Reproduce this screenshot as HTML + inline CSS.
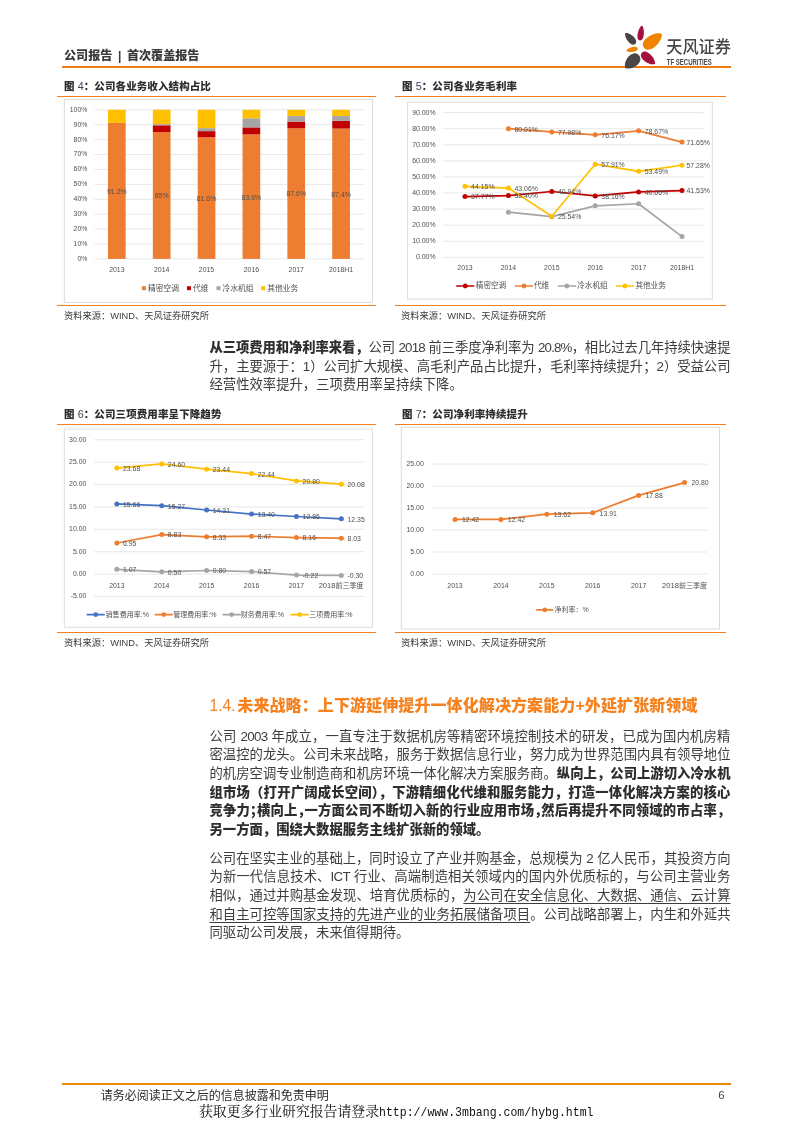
<!DOCTYPE html>
<html lang="zh-CN">
<head>
<meta charset="utf-8">
<title>公司报告 | 首次覆盖报告</title>
<style>
html,body{margin:0;padding:0;background:#fff;}
body{width:793px;height:1122px;position:relative;overflow:hidden;font-family:"Liberation Sans","Noto Sans CJK SC",sans-serif;color:#3a3a3a;}
.abs{position:absolute;white-space:nowrap;}
.ln{position:absolute;white-space:nowrap;color:#3d3d3d;overflow:visible;}
.ln b{font-weight:900;color:#2e2e2e;}
.ln i{font-style:normal;font-feature-settings:'halt' 1;}
.ln u{text-decoration:underline;text-underline-offset:2.5px;text-decoration-thickness:0.9px;}
.hl{position:absolute;background:#F08020;}
.ft{font-weight:900;font-size:10.5px;letter-spacing:0.1px;color:#2f2f2f;line-height:14px;height:14px;}
.ft .n{font-weight:400;color:#3a4556;font-size:10.8px;}
.src{font-size:9.25px;color:#3a3a3a;line-height:12px;height:12px;}
svg text{font-family:"Liberation Sans","Noto Sans CJK SC",sans-serif;}
</style>
</head>
<body>
<div class="abs" style="left:64px;top:46.5px;font-size:12.1px;line-height:18px;font-weight:900;color:#3a3a3a;word-spacing:2.2px;">公司报告 | 首次覆盖报告</div>
<div class="hl" style="left:62px;top:66px;width:669px;height:2px;background:#F07A14;"></div>

<div class="abs ft" style="left:64px;top:79px;">图 <span class="n">4</span>：公司各业务收入结构占比</div>
<div class="abs ft" style="left:402px;top:79px;">图 <span class="n">5</span>：公司各业务毛利率</div>
<div class="hl" style="left:57px;top:96px;width:319px;height:1px;"></div>
<div class="hl" style="left:395px;top:96px;width:331px;height:1px;"></div>
<div class="hl" style="left:57px;top:305px;width:319px;height:1px;"></div>
<div class="hl" style="left:395px;top:305px;width:331px;height:1px;"></div>
<div class="abs src" style="left:64px;top:310px;">资料来源：WIND、天风证券研究所</div>
<div class="abs src" style="left:401px;top:310px;">资料来源：WIND、天风证券研究所</div>

<div class="abs ft" style="left:64px;top:407px;">图 <span class="n">6</span>：公司三项费用率呈下降趋势</div>
<div class="abs ft" style="left:402px;top:407px;">图 <span class="n">7</span>：公司净利率持续提升</div>
<div class="hl" style="left:57px;top:424px;width:319px;height:1px;"></div>
<div class="hl" style="left:395px;top:424px;width:331px;height:1px;"></div>
<div class="hl" style="left:57px;top:632px;width:319px;height:1px;"></div>
<div class="hl" style="left:395px;top:632px;width:331px;height:1px;"></div>
<div class="abs src" style="left:64px;top:637px;">资料来源：WIND、天风证券研究所</div>
<div class="abs src" style="left:401px;top:637px;">资料来源：WIND、天风证券研究所</div>

<svg class="abs" style="left:0;top:0;" width="793" height="1122" viewBox="0 0 793 1122">
<g><path d="M 7.6,0 C 4.71,-3.70 -7.6,-4.55 -7.6,0 C -7.6,4.55 4.71,3.70 7.6,0 Z" fill="#A3123A" transform="translate(640.9,33.0) rotate(-82)"/><path d="M 7.4,0 C 4.59,-4.26 -7.4,-5.24 -7.4,0 C -7.4,5.24 4.59,4.26 7.4,0 Z" fill="#4A4545" transform="translate(630.3,38.5) rotate(-134)"/><path d="M 5.9,0 C 3.66,-2.91 -5.9,-3.59 -5.9,0 C -5.9,3.59 3.66,2.91 5.9,0 Z" fill="#F08300" transform="translate(632.0,49.6) rotate(169)"/><path d="M 11.3,0 C 7.01,-7.17 -11.3,-8.83 -11.3,0 C -11.3,8.83 7.01,7.17 11.3,0 Z" fill="#F08300" transform="translate(652.9,40.8) rotate(-38)"/><path d="M 8.7,0 C 5.39,-5.15 -8.7,-6.35 -8.7,0 C -8.7,6.35 5.39,5.15 8.7,0 Z" fill="#A3123A" transform="translate(648.4,58.5) rotate(40)"/><path d="M 9.3,0 C 5.77,-7.17 -9.3,-8.83 -9.3,0 C -9.3,8.83 5.77,7.17 9.3,0 Z" fill="#4A4545" transform="translate(632.0,61.6) rotate(137)"/></g>
<text x="666.3" y="53.4" font-size="17" font-weight="500" fill="#4a4646" textLength="64.6" lengthAdjust="spacingAndGlyphs">天风证券</text>
<text x="666.8" y="64.7" font-size="8.2" font-weight="bold" fill="#4a4646" textLength="45" lengthAdjust="spacingAndGlyphs">TF SECURITIES</text>
<rect x="64.30" y="99.50" width="308.20" height="202.80" fill="#fff" stroke="#D9D9D9" stroke-width="0.9"/>
<line x1="94.40" x2="364.20" y1="258.90" y2="258.90" stroke="#E2E2E2" stroke-width="0.8"/>
<text transform="translate(87.40,258.30) scale(0.865,1)" font-size="8.0" text-anchor="end" fill="#505050" font-weight="normal" dy="0.31em" >0%</text>
<line x1="94.40" x2="364.20" y1="243.99" y2="243.99" stroke="#E2E2E2" stroke-width="0.8"/>
<text transform="translate(87.40,243.39) scale(0.865,1)" font-size="8.0" text-anchor="end" fill="#505050" font-weight="normal" dy="0.31em" >10%</text>
<line x1="94.40" x2="364.20" y1="229.08" y2="229.08" stroke="#E2E2E2" stroke-width="0.8"/>
<text transform="translate(87.40,228.48) scale(0.865,1)" font-size="8.0" text-anchor="end" fill="#505050" font-weight="normal" dy="0.31em" >20%</text>
<line x1="94.40" x2="364.20" y1="214.17" y2="214.17" stroke="#E2E2E2" stroke-width="0.8"/>
<text transform="translate(87.40,213.57) scale(0.865,1)" font-size="8.0" text-anchor="end" fill="#505050" font-weight="normal" dy="0.31em" >30%</text>
<line x1="94.40" x2="364.20" y1="199.26" y2="199.26" stroke="#E2E2E2" stroke-width="0.8"/>
<text transform="translate(87.40,198.66) scale(0.865,1)" font-size="8.0" text-anchor="end" fill="#505050" font-weight="normal" dy="0.31em" >40%</text>
<line x1="94.40" x2="364.20" y1="184.35" y2="184.35" stroke="#E2E2E2" stroke-width="0.8"/>
<text transform="translate(87.40,183.75) scale(0.865,1)" font-size="8.0" text-anchor="end" fill="#505050" font-weight="normal" dy="0.31em" >50%</text>
<line x1="94.40" x2="364.20" y1="169.44" y2="169.44" stroke="#E2E2E2" stroke-width="0.8"/>
<text transform="translate(87.40,168.84) scale(0.865,1)" font-size="8.0" text-anchor="end" fill="#505050" font-weight="normal" dy="0.31em" >60%</text>
<line x1="94.40" x2="364.20" y1="154.53" y2="154.53" stroke="#E2E2E2" stroke-width="0.8"/>
<text transform="translate(87.40,153.93) scale(0.865,1)" font-size="8.0" text-anchor="end" fill="#505050" font-weight="normal" dy="0.31em" >70%</text>
<line x1="94.40" x2="364.20" y1="139.62" y2="139.62" stroke="#E2E2E2" stroke-width="0.8"/>
<text transform="translate(87.40,139.02) scale(0.865,1)" font-size="8.0" text-anchor="end" fill="#505050" font-weight="normal" dy="0.31em" >80%</text>
<line x1="94.40" x2="364.20" y1="124.71" y2="124.71" stroke="#E2E2E2" stroke-width="0.8"/>
<text transform="translate(87.40,124.11) scale(0.865,1)" font-size="8.0" text-anchor="end" fill="#505050" font-weight="normal" dy="0.31em" >90%</text>
<line x1="94.40" x2="364.20" y1="109.80" y2="109.80" stroke="#E2E2E2" stroke-width="0.8"/>
<text transform="translate(87.40,109.20) scale(0.865,1)" font-size="8.0" text-anchor="end" fill="#505050" font-weight="normal" dy="0.31em" >100%</text>
<rect x="107.98" y="122.92" width="17.70" height="135.98" fill="#ED7D31"/>
<rect x="107.98" y="109.80" width="17.70" height="13.12" fill="#FFC000"/>
<text transform="translate(116.83,191.31) scale(0.865,1)" font-size="8.0" text-anchor="middle" fill="#505050" font-weight="normal" dy="0.31em" >91.2%</text>
<text transform="translate(116.83,270.00) scale(0.865,1)" font-size="8.0" text-anchor="middle" fill="#505050" font-weight="normal" dy="0.31em" >2013</text>
<rect x="152.83" y="132.16" width="17.70" height="126.74" fill="#ED7D31"/>
<rect x="152.83" y="125.31" width="17.70" height="6.86" fill="#C00000"/>
<rect x="152.83" y="124.11" width="17.70" height="1.19" fill="#A5A5A5"/>
<rect x="152.83" y="109.80" width="17.70" height="14.31" fill="#FFC000"/>
<text transform="translate(161.68,195.93) scale(0.865,1)" font-size="8.0" text-anchor="middle" fill="#505050" font-weight="normal" dy="0.31em" >85%</text>
<text transform="translate(161.68,270.00) scale(0.865,1)" font-size="8.0" text-anchor="middle" fill="#505050" font-weight="normal" dy="0.31em" >2014</text>
<rect x="197.68" y="137.23" width="17.70" height="121.67" fill="#ED7D31"/>
<rect x="197.68" y="131.12" width="17.70" height="6.11" fill="#C00000"/>
<rect x="197.68" y="128.14" width="17.70" height="2.98" fill="#A5A5A5"/>
<rect x="197.68" y="109.80" width="17.70" height="18.34" fill="#FFC000"/>
<text transform="translate(206.53,198.47) scale(0.865,1)" font-size="8.0" text-anchor="middle" fill="#505050" font-weight="normal" dy="0.31em" >81.6%</text>
<text transform="translate(206.53,270.00) scale(0.865,1)" font-size="8.0" text-anchor="middle" fill="#505050" font-weight="normal" dy="0.31em" >2015</text>
<rect x="242.53" y="134.40" width="17.70" height="124.50" fill="#ED7D31"/>
<rect x="242.53" y="127.39" width="17.70" height="7.01" fill="#C00000"/>
<rect x="242.53" y="118.30" width="17.70" height="9.10" fill="#A5A5A5"/>
<rect x="242.53" y="109.80" width="17.70" height="8.50" fill="#FFC000"/>
<text transform="translate(251.38,197.05) scale(0.865,1)" font-size="8.0" text-anchor="middle" fill="#505050" font-weight="normal" dy="0.31em" >83.6%</text>
<text transform="translate(251.38,270.00) scale(0.865,1)" font-size="8.0" text-anchor="middle" fill="#505050" font-weight="normal" dy="0.31em" >2016</text>
<rect x="287.38" y="128.29" width="17.70" height="130.61" fill="#ED7D31"/>
<rect x="287.38" y="121.58" width="17.70" height="6.71" fill="#C00000"/>
<rect x="287.38" y="116.06" width="17.70" height="5.52" fill="#A5A5A5"/>
<rect x="287.38" y="109.80" width="17.70" height="6.26" fill="#FFC000"/>
<text transform="translate(296.23,193.99) scale(0.865,1)" font-size="8.0" text-anchor="middle" fill="#505050" font-weight="normal" dy="0.31em" >87.6%</text>
<text transform="translate(296.23,270.00) scale(0.865,1)" font-size="8.0" text-anchor="middle" fill="#505050" font-weight="normal" dy="0.31em" >2017</text>
<rect x="332.23" y="128.59" width="17.70" height="130.31" fill="#ED7D31"/>
<rect x="332.23" y="120.83" width="17.70" height="7.75" fill="#C00000"/>
<rect x="332.23" y="116.06" width="17.70" height="4.77" fill="#A5A5A5"/>
<rect x="332.23" y="109.80" width="17.70" height="6.26" fill="#FFC000"/>
<text transform="translate(341.08,194.14) scale(0.865,1)" font-size="8.0" text-anchor="middle" fill="#505050" font-weight="normal" dy="0.31em" >87.4%</text>
<text transform="translate(341.08,270.00) scale(0.865,1)" font-size="8.0" text-anchor="middle" fill="#505050" font-weight="normal" dy="0.31em" >2018H1</text>
<rect x="141.90" y="286.20" width="4.00" height="4.00" fill="#ED7D31"/>
<text transform="translate(148.00,288.50) scale(1.0,1)" font-size="7.75" text-anchor="start" fill="#505050" font-weight="normal" dy="0.31em" >精密空调</text>
<rect x="187.00" y="286.20" width="4.00" height="4.00" fill="#C00000"/>
<text transform="translate(193.10,288.50) scale(1.0,1)" font-size="7.75" text-anchor="start" fill="#505050" font-weight="normal" dy="0.31em" >代维</text>
<rect x="216.50" y="286.20" width="4.00" height="4.00" fill="#A5A5A5"/>
<text transform="translate(222.60,288.50) scale(1.0,1)" font-size="7.75" text-anchor="start" fill="#505050" font-weight="normal" dy="0.31em" >冷水机组</text>
<rect x="261.10" y="286.20" width="4.00" height="4.00" fill="#FFC000"/>
<text transform="translate(267.20,288.50) scale(1.0,1)" font-size="7.75" text-anchor="start" fill="#505050" font-weight="normal" dy="0.31em" >其他业务</text>
<rect x="407.60" y="102.30" width="304.70" height="196.80" fill="#fff" stroke="#D9D9D9" stroke-width="0.9"/>
<line x1="442.40" x2="703.80" y1="257.30" y2="257.30" stroke="#E2E2E2" stroke-width="0.8"/>
<text transform="translate(435.60,256.70) scale(0.865,1)" font-size="8.0" text-anchor="end" fill="#505050" font-weight="normal" dy="0.31em" >0.00%</text>
<line x1="442.40" x2="703.80" y1="241.23" y2="241.23" stroke="#E2E2E2" stroke-width="0.8"/>
<text transform="translate(435.60,240.63) scale(0.865,1)" font-size="8.0" text-anchor="end" fill="#505050" font-weight="normal" dy="0.31em" >10.00%</text>
<line x1="442.40" x2="703.80" y1="225.15" y2="225.15" stroke="#E2E2E2" stroke-width="0.8"/>
<text transform="translate(435.60,224.55) scale(0.865,1)" font-size="8.0" text-anchor="end" fill="#505050" font-weight="normal" dy="0.31em" >20.00%</text>
<line x1="442.40" x2="703.80" y1="209.08" y2="209.08" stroke="#E2E2E2" stroke-width="0.8"/>
<text transform="translate(435.60,208.48) scale(0.865,1)" font-size="8.0" text-anchor="end" fill="#505050" font-weight="normal" dy="0.31em" >30.00%</text>
<line x1="442.40" x2="703.80" y1="193.00" y2="193.00" stroke="#E2E2E2" stroke-width="0.8"/>
<text transform="translate(435.60,192.40) scale(0.865,1)" font-size="8.0" text-anchor="end" fill="#505050" font-weight="normal" dy="0.31em" >40.00%</text>
<line x1="442.40" x2="703.80" y1="176.93" y2="176.93" stroke="#E2E2E2" stroke-width="0.8"/>
<text transform="translate(435.60,176.33) scale(0.865,1)" font-size="8.0" text-anchor="end" fill="#505050" font-weight="normal" dy="0.31em" >50.00%</text>
<line x1="442.40" x2="703.80" y1="160.85" y2="160.85" stroke="#E2E2E2" stroke-width="0.8"/>
<text transform="translate(435.60,160.25) scale(0.865,1)" font-size="8.0" text-anchor="end" fill="#505050" font-weight="normal" dy="0.31em" >60.00%</text>
<line x1="442.40" x2="703.80" y1="144.78" y2="144.78" stroke="#E2E2E2" stroke-width="0.8"/>
<text transform="translate(435.60,144.18) scale(0.865,1)" font-size="8.0" text-anchor="end" fill="#505050" font-weight="normal" dy="0.31em" >70.00%</text>
<line x1="442.40" x2="703.80" y1="128.70" y2="128.70" stroke="#E2E2E2" stroke-width="0.8"/>
<text transform="translate(435.60,128.10) scale(0.865,1)" font-size="8.0" text-anchor="end" fill="#505050" font-weight="normal" dy="0.31em" >80.00%</text>
<line x1="442.40" x2="703.80" y1="112.63" y2="112.63" stroke="#E2E2E2" stroke-width="0.8"/>
<text transform="translate(435.60,112.03) scale(0.865,1)" font-size="8.0" text-anchor="end" fill="#505050" font-weight="normal" dy="0.31em" >90.00%</text>
<text transform="translate(465.00,267.90) scale(0.865,1)" font-size="8.0" text-anchor="middle" fill="#505050" font-weight="normal" dy="0.31em" >2013</text>
<text transform="translate(508.40,267.90) scale(0.865,1)" font-size="8.0" text-anchor="middle" fill="#505050" font-weight="normal" dy="0.31em" >2014</text>
<text transform="translate(551.80,267.90) scale(0.865,1)" font-size="8.0" text-anchor="middle" fill="#505050" font-weight="normal" dy="0.31em" >2015</text>
<text transform="translate(595.20,267.90) scale(0.865,1)" font-size="8.0" text-anchor="middle" fill="#505050" font-weight="normal" dy="0.31em" >2016</text>
<text transform="translate(638.60,267.90) scale(0.865,1)" font-size="8.0" text-anchor="middle" fill="#505050" font-weight="normal" dy="0.31em" >2017</text>
<text transform="translate(682.00,267.90) scale(0.865,1)" font-size="8.0" text-anchor="middle" fill="#505050" font-weight="normal" dy="0.31em" >2018H1</text>
<polyline points="465.00,196.58 508.40,195.57 551.80,191.49 595.20,195.96 638.60,191.94 682.00,190.54" fill="none" stroke="#C00000" stroke-width="1.7" stroke-linejoin="round" stroke-linecap="round"/>
<circle cx="465.00" cy="196.58" r="2.5" fill="#C00000"/>
<circle cx="508.40" cy="195.57" r="2.5" fill="#C00000"/>
<circle cx="551.80" cy="191.49" r="2.5" fill="#C00000"/>
<circle cx="595.20" cy="195.96" r="2.5" fill="#C00000"/>
<circle cx="638.60" cy="191.94" r="2.5" fill="#C00000"/>
<circle cx="682.00" cy="190.54" r="2.5" fill="#C00000"/>
<polyline points="508.40,128.68 551.80,131.95 595.20,134.86 638.60,130.84 682.00,142.12" fill="none" stroke="#ED7D31" stroke-width="1.7" stroke-linejoin="round" stroke-linecap="round"/>
<circle cx="508.40" cy="128.68" r="2.5" fill="#ED7D31"/>
<circle cx="551.80" cy="131.95" r="2.5" fill="#ED7D31"/>
<circle cx="595.20" cy="134.86" r="2.5" fill="#ED7D31"/>
<circle cx="638.60" cy="130.84" r="2.5" fill="#ED7D31"/>
<circle cx="682.00" cy="142.12" r="2.5" fill="#ED7D31"/>
<polyline points="508.40,212.13 551.80,216.63 595.20,205.86 638.60,203.77 682.00,236.56" fill="none" stroke="#A5A5A5" stroke-width="1.7" stroke-linejoin="round" stroke-linecap="round"/>
<circle cx="508.40" cy="212.13" r="2.5" fill="#A5A5A5"/>
<circle cx="551.80" cy="216.63" r="2.5" fill="#A5A5A5"/>
<circle cx="595.20" cy="205.86" r="2.5" fill="#A5A5A5"/>
<circle cx="638.60" cy="203.77" r="2.5" fill="#A5A5A5"/>
<circle cx="682.00" cy="236.56" r="2.5" fill="#A5A5A5"/>
<polyline points="465.00,186.33 508.40,188.08 551.80,216.24 595.20,164.21 638.60,171.31 682.00,165.22" fill="none" stroke="#FFC000" stroke-width="1.7" stroke-linejoin="round" stroke-linecap="round"/>
<circle cx="465.00" cy="186.33" r="2.5" fill="#FFC000"/>
<circle cx="508.40" cy="188.08" r="2.5" fill="#FFC000"/>
<circle cx="551.80" cy="216.24" r="2.5" fill="#FFC000"/>
<circle cx="595.20" cy="164.21" r="2.5" fill="#FFC000"/>
<circle cx="638.60" cy="171.31" r="2.5" fill="#FFC000"/>
<circle cx="682.00" cy="165.22" r="2.5" fill="#FFC000"/>
<text transform="translate(471.10,196.98) scale(0.865,1)" font-size="8.0" text-anchor="start" fill="#505050" font-weight="normal" dy="0.31em" >37.77%</text>
<text transform="translate(514.50,195.97) scale(0.865,1)" font-size="8.0" text-anchor="start" fill="#505050" font-weight="normal" dy="0.31em" >38.40%</text>
<text transform="translate(557.90,191.89) scale(0.865,1)" font-size="8.0" text-anchor="start" fill="#505050" font-weight="normal" dy="0.31em" >40.94%</text>
<text transform="translate(601.30,196.36) scale(0.865,1)" font-size="8.0" text-anchor="start" fill="#505050" font-weight="normal" dy="0.31em" >38.16%</text>
<text transform="translate(644.70,192.34) scale(0.865,1)" font-size="8.0" text-anchor="start" fill="#505050" font-weight="normal" dy="0.31em" >40.66%</text>
<text transform="translate(686.50,190.94) scale(0.865,1)" font-size="8.0" text-anchor="start" fill="#505050" font-weight="normal" dy="0.31em" >41.53%</text>
<text transform="translate(514.50,129.08) scale(0.865,1)" font-size="8.0" text-anchor="start" fill="#505050" font-weight="normal" dy="0.31em" >80.01%</text>
<text transform="translate(557.90,132.35) scale(0.865,1)" font-size="8.0" text-anchor="start" fill="#505050" font-weight="normal" dy="0.31em" >77.98%</text>
<text transform="translate(601.30,135.26) scale(0.865,1)" font-size="8.0" text-anchor="start" fill="#505050" font-weight="normal" dy="0.31em" >76.17%</text>
<text transform="translate(644.70,131.24) scale(0.865,1)" font-size="8.0" text-anchor="start" fill="#505050" font-weight="normal" dy="0.31em" >78.67%</text>
<text transform="translate(686.50,142.52) scale(0.865,1)" font-size="8.0" text-anchor="start" fill="#505050" font-weight="normal" dy="0.31em" >71.65%</text>
<text transform="translate(471.10,186.73) scale(0.865,1)" font-size="8.0" text-anchor="start" fill="#505050" font-weight="normal" dy="0.31em" >44.15%</text>
<text transform="translate(514.50,188.48) scale(0.865,1)" font-size="8.0" text-anchor="start" fill="#505050" font-weight="normal" dy="0.31em" >43.06%</text>
<text transform="translate(557.90,216.64) scale(0.865,1)" font-size="8.0" text-anchor="start" fill="#505050" font-weight="normal" dy="0.31em" >25.54%</text>
<text transform="translate(601.30,164.61) scale(0.865,1)" font-size="8.0" text-anchor="start" fill="#505050" font-weight="normal" dy="0.31em" >57.91%</text>
<text transform="translate(644.70,171.71) scale(0.865,1)" font-size="8.0" text-anchor="start" fill="#505050" font-weight="normal" dy="0.31em" >53.49%</text>
<text transform="translate(686.50,165.62) scale(0.865,1)" font-size="8.0" text-anchor="start" fill="#505050" font-weight="normal" dy="0.31em" >57.28%</text>
<line x1="456.80" x2="473.70" y1="286.00" y2="286.00" stroke="#C00000" stroke-width="1.7" stroke-linecap="round"/>
<circle cx="465.25" cy="286.00" r="2.4" fill="#C00000"/>
<text transform="translate(475.80,286.00) scale(1.0,1)" font-size="7.6" text-anchor="start" fill="#505050" font-weight="normal" dy="0.31em" >精密空调</text>
<line x1="515.60" x2="532.50" y1="286.00" y2="286.00" stroke="#ED7D31" stroke-width="1.7" stroke-linecap="round"/>
<circle cx="524.05" cy="286.00" r="2.4" fill="#ED7D31"/>
<text transform="translate(533.90,286.00) scale(1.0,1)" font-size="7.6" text-anchor="start" fill="#505050" font-weight="normal" dy="0.31em" >代维</text>
<line x1="558.40" x2="575.30" y1="286.00" y2="286.00" stroke="#A5A5A5" stroke-width="1.7" stroke-linecap="round"/>
<circle cx="566.85" cy="286.00" r="2.4" fill="#A5A5A5"/>
<text transform="translate(577.20,286.00) scale(1.0,1)" font-size="7.6" text-anchor="start" fill="#505050" font-weight="normal" dy="0.31em" >冷水机组</text>
<line x1="616.50" x2="633.40" y1="286.00" y2="286.00" stroke="#FFC000" stroke-width="1.7" stroke-linecap="round"/>
<circle cx="624.95" cy="286.00" r="2.4" fill="#FFC000"/>
<text transform="translate(635.40,286.00) scale(1.0,1)" font-size="7.6" text-anchor="start" fill="#505050" font-weight="normal" dy="0.31em" >其他业务</text>
<rect x="64.30" y="429.00" width="308.10" height="198.30" fill="#fff" stroke="#D9D9D9" stroke-width="0.9"/>
<line x1="94.10" x2="364.40" y1="596.49" y2="596.49" stroke="#E2E2E2" stroke-width="0.8"/>
<text transform="translate(86.40,595.89) scale(0.865,1)" font-size="8.0" text-anchor="end" fill="#505050" font-weight="normal" dy="0.31em" >-5.00</text>
<line x1="94.10" x2="364.40" y1="574.10" y2="574.10" stroke="#E2E2E2" stroke-width="0.8"/>
<text transform="translate(86.40,573.50) scale(0.865,1)" font-size="8.0" text-anchor="end" fill="#505050" font-weight="normal" dy="0.31em" >0.00</text>
<line x1="94.10" x2="364.40" y1="551.71" y2="551.71" stroke="#E2E2E2" stroke-width="0.8"/>
<text transform="translate(86.40,551.11) scale(0.865,1)" font-size="8.0" text-anchor="end" fill="#505050" font-weight="normal" dy="0.31em" >5.00</text>
<line x1="94.10" x2="364.40" y1="529.32" y2="529.32" stroke="#E2E2E2" stroke-width="0.8"/>
<text transform="translate(86.40,528.72) scale(0.865,1)" font-size="8.0" text-anchor="end" fill="#505050" font-weight="normal" dy="0.31em" >10.00</text>
<line x1="94.10" x2="364.40" y1="506.93" y2="506.93" stroke="#E2E2E2" stroke-width="0.8"/>
<text transform="translate(86.40,506.33) scale(0.865,1)" font-size="8.0" text-anchor="end" fill="#505050" font-weight="normal" dy="0.31em" >15.00</text>
<line x1="94.10" x2="364.40" y1="484.54" y2="484.54" stroke="#E2E2E2" stroke-width="0.8"/>
<text transform="translate(86.40,483.94) scale(0.865,1)" font-size="8.0" text-anchor="end" fill="#505050" font-weight="normal" dy="0.31em" >20.00</text>
<line x1="94.10" x2="364.40" y1="462.15" y2="462.15" stroke="#E2E2E2" stroke-width="0.8"/>
<text transform="translate(86.40,461.55) scale(0.865,1)" font-size="8.0" text-anchor="end" fill="#505050" font-weight="normal" dy="0.31em" >25.00</text>
<line x1="94.10" x2="364.40" y1="439.76" y2="439.76" stroke="#E2E2E2" stroke-width="0.8"/>
<text transform="translate(86.40,439.16) scale(0.865,1)" font-size="8.0" text-anchor="end" fill="#505050" font-weight="normal" dy="0.31em" >30.00</text>
<text transform="translate(116.85,585.20) scale(0.865,1)" font-size="8.0" text-anchor="middle" fill="#505050" font-weight="normal" dy="0.31em" >2013</text>
<text transform="translate(161.75,585.20) scale(0.865,1)" font-size="8.0" text-anchor="middle" fill="#505050" font-weight="normal" dy="0.31em" >2014</text>
<text transform="translate(206.65,585.20) scale(0.865,1)" font-size="8.0" text-anchor="middle" fill="#505050" font-weight="normal" dy="0.31em" >2015</text>
<text transform="translate(251.55,585.20) scale(0.865,1)" font-size="8.0" text-anchor="middle" fill="#505050" font-weight="normal" dy="0.31em" >2016</text>
<text transform="translate(296.45,585.20) scale(0.865,1)" font-size="8.0" text-anchor="middle" fill="#505050" font-weight="normal" dy="0.31em" >2017</text>
<text transform="translate(363.60,585.20) scale(0.95,1)" font-size="8.0" text-anchor="end" fill="#505050" font-weight="normal" dy="0.31em" ><tspan>2018</tspan><tspan font-size="7.4">前三季度</tspan></text>
<polyline points="116.85,569.31 161.75,571.86 206.65,570.52 251.55,571.55 296.45,575.09 341.35,575.44" fill="none" stroke="#A5A5A5" stroke-width="1.7" stroke-linejoin="round" stroke-linecap="round"/>
<circle cx="116.85" cy="569.31" r="2.5" fill="#A5A5A5"/>
<circle cx="161.75" cy="571.86" r="2.5" fill="#A5A5A5"/>
<circle cx="206.65" cy="570.52" r="2.5" fill="#A5A5A5"/>
<circle cx="251.55" cy="571.55" r="2.5" fill="#A5A5A5"/>
<circle cx="296.45" cy="575.09" r="2.5" fill="#A5A5A5"/>
<circle cx="341.35" cy="575.44" r="2.5" fill="#A5A5A5"/>
<text transform="translate(122.95,569.71) scale(0.865,1)" font-size="8.0" text-anchor="start" fill="#505050" font-weight="normal" dy="0.31em" >1.07</text>
<text transform="translate(167.85,572.26) scale(0.865,1)" font-size="8.0" text-anchor="start" fill="#505050" font-weight="normal" dy="0.31em" >0.50</text>
<text transform="translate(212.75,570.92) scale(0.865,1)" font-size="8.0" text-anchor="start" fill="#505050" font-weight="normal" dy="0.31em" >0.80</text>
<text transform="translate(257.65,571.95) scale(0.865,1)" font-size="8.0" text-anchor="start" fill="#505050" font-weight="normal" dy="0.31em" >0.57</text>
<text transform="translate(302.55,575.49) scale(0.865,1)" font-size="8.0" text-anchor="start" fill="#505050" font-weight="normal" dy="0.31em" >-0.22</text>
<text transform="translate(347.45,575.84) scale(0.865,1)" font-size="8.0" text-anchor="start" fill="#505050" font-weight="normal" dy="0.31em" >-0.30</text>
<polyline points="116.85,542.98 161.75,534.56 206.65,536.80 251.55,536.17 296.45,537.56 341.35,538.14" fill="none" stroke="#ED7D31" stroke-width="1.7" stroke-linejoin="round" stroke-linecap="round"/>
<circle cx="116.85" cy="542.98" r="2.5" fill="#ED7D31"/>
<circle cx="161.75" cy="534.56" r="2.5" fill="#ED7D31"/>
<circle cx="206.65" cy="536.80" r="2.5" fill="#ED7D31"/>
<circle cx="251.55" cy="536.17" r="2.5" fill="#ED7D31"/>
<circle cx="296.45" cy="537.56" r="2.5" fill="#ED7D31"/>
<circle cx="341.35" cy="538.14" r="2.5" fill="#ED7D31"/>
<text transform="translate(122.95,543.38) scale(0.865,1)" font-size="8.0" text-anchor="start" fill="#505050" font-weight="normal" dy="0.31em" >6.95</text>
<text transform="translate(167.85,534.96) scale(0.865,1)" font-size="8.0" text-anchor="start" fill="#505050" font-weight="normal" dy="0.31em" >8.83</text>
<text transform="translate(212.75,537.20) scale(0.865,1)" font-size="8.0" text-anchor="start" fill="#505050" font-weight="normal" dy="0.31em" >8.33</text>
<text transform="translate(257.65,536.57) scale(0.865,1)" font-size="8.0" text-anchor="start" fill="#505050" font-weight="normal" dy="0.31em" >8.47</text>
<text transform="translate(302.55,537.96) scale(0.865,1)" font-size="8.0" text-anchor="start" fill="#505050" font-weight="normal" dy="0.31em" >8.16</text>
<text transform="translate(347.45,538.54) scale(0.865,1)" font-size="8.0" text-anchor="start" fill="#505050" font-weight="normal" dy="0.31em" >8.03</text>
<polyline points="116.85,503.97 161.75,505.72 206.65,510.02 251.55,514.09 296.45,516.51 341.35,518.80" fill="none" stroke="#4472C4" stroke-width="1.7" stroke-linejoin="round" stroke-linecap="round"/>
<circle cx="116.85" cy="503.97" r="2.5" fill="#4472C4"/>
<circle cx="161.75" cy="505.72" r="2.5" fill="#4472C4"/>
<circle cx="206.65" cy="510.02" r="2.5" fill="#4472C4"/>
<circle cx="251.55" cy="514.09" r="2.5" fill="#4472C4"/>
<circle cx="296.45" cy="516.51" r="2.5" fill="#4472C4"/>
<circle cx="341.35" cy="518.80" r="2.5" fill="#4472C4"/>
<text transform="translate(122.95,504.37) scale(0.865,1)" font-size="8.0" text-anchor="start" fill="#505050" font-weight="normal" dy="0.31em" >15.66</text>
<text transform="translate(167.85,506.12) scale(0.865,1)" font-size="8.0" text-anchor="start" fill="#505050" font-weight="normal" dy="0.31em" >15.27</text>
<text transform="translate(212.75,510.42) scale(0.865,1)" font-size="8.0" text-anchor="start" fill="#505050" font-weight="normal" dy="0.31em" >14.31</text>
<text transform="translate(257.65,514.49) scale(0.865,1)" font-size="8.0" text-anchor="start" fill="#505050" font-weight="normal" dy="0.31em" >13.40</text>
<text transform="translate(302.55,516.91) scale(0.865,1)" font-size="8.0" text-anchor="start" fill="#505050" font-weight="normal" dy="0.31em" >12.86</text>
<text transform="translate(347.45,519.20) scale(0.865,1)" font-size="8.0" text-anchor="start" fill="#505050" font-weight="normal" dy="0.31em" >12.35</text>
<polyline points="116.85,468.06 161.75,463.94 206.65,469.14 251.55,473.61 296.45,480.96 341.35,484.18" fill="none" stroke="#FFC000" stroke-width="1.7" stroke-linejoin="round" stroke-linecap="round"/>
<circle cx="116.85" cy="468.06" r="2.5" fill="#FFC000"/>
<circle cx="161.75" cy="463.94" r="2.5" fill="#FFC000"/>
<circle cx="206.65" cy="469.14" r="2.5" fill="#FFC000"/>
<circle cx="251.55" cy="473.61" r="2.5" fill="#FFC000"/>
<circle cx="296.45" cy="480.96" r="2.5" fill="#FFC000"/>
<circle cx="341.35" cy="484.18" r="2.5" fill="#FFC000"/>
<text transform="translate(122.95,468.46) scale(0.865,1)" font-size="8.0" text-anchor="start" fill="#505050" font-weight="normal" dy="0.31em" >23.68</text>
<text transform="translate(167.85,464.34) scale(0.865,1)" font-size="8.0" text-anchor="start" fill="#505050" font-weight="normal" dy="0.31em" >24.60</text>
<text transform="translate(212.75,469.54) scale(0.865,1)" font-size="8.0" text-anchor="start" fill="#505050" font-weight="normal" dy="0.31em" >23.44</text>
<text transform="translate(257.65,474.01) scale(0.865,1)" font-size="8.0" text-anchor="start" fill="#505050" font-weight="normal" dy="0.31em" >22.44</text>
<text transform="translate(302.55,481.36) scale(0.865,1)" font-size="8.0" text-anchor="start" fill="#505050" font-weight="normal" dy="0.31em" >20.80</text>
<text transform="translate(347.45,484.58) scale(0.865,1)" font-size="8.0" text-anchor="start" fill="#505050" font-weight="normal" dy="0.31em" >20.08</text>
<line x1="87.30" x2="104.20" y1="614.60" y2="614.60" stroke="#4472C4" stroke-width="1.7" stroke-linecap="round"/>
<circle cx="95.75" cy="614.60" r="2.4" fill="#4472C4"/>
<text transform="translate(105.60,614.60) scale(0.95,1)" font-size="7.4" text-anchor="start" fill="#505050" font-weight="normal" dy="0.31em" >销售费用率:%</text>
<line x1="155.30" x2="172.20" y1="614.60" y2="614.60" stroke="#ED7D31" stroke-width="1.7" stroke-linecap="round"/>
<circle cx="163.75" cy="614.60" r="2.4" fill="#ED7D31"/>
<text transform="translate(173.30,614.60) scale(0.95,1)" font-size="7.4" text-anchor="start" fill="#505050" font-weight="normal" dy="0.31em" >管理费用率:%</text>
<line x1="223.20" x2="240.10" y1="614.60" y2="614.60" stroke="#A5A5A5" stroke-width="1.7" stroke-linecap="round"/>
<circle cx="231.65" cy="614.60" r="2.4" fill="#A5A5A5"/>
<text transform="translate(240.70,614.60) scale(0.95,1)" font-size="7.4" text-anchor="start" fill="#505050" font-weight="normal" dy="0.31em" >财务费用率:%</text>
<line x1="291.20" x2="308.10" y1="614.60" y2="614.60" stroke="#FFC000" stroke-width="1.7" stroke-linecap="round"/>
<circle cx="299.65" cy="614.60" r="2.4" fill="#FFC000"/>
<text transform="translate(309.20,614.60) scale(0.95,1)" font-size="7.4" text-anchor="start" fill="#505050" font-weight="normal" dy="0.31em" >三项费用率:%</text>
<rect x="401.30" y="427.30" width="318.20" height="201.70" fill="#fff" stroke="#D9D9D9" stroke-width="0.9"/>
<line x1="432.10" x2="707.30" y1="574.00" y2="574.00" stroke="#E2E2E2" stroke-width="0.8"/>
<text transform="translate(423.80,573.40) scale(0.865,1)" font-size="8.0" text-anchor="end" fill="#505050" font-weight="normal" dy="0.31em" >0.00</text>
<line x1="432.10" x2="707.30" y1="552.02" y2="552.02" stroke="#E2E2E2" stroke-width="0.8"/>
<text transform="translate(423.80,551.42) scale(0.865,1)" font-size="8.0" text-anchor="end" fill="#505050" font-weight="normal" dy="0.31em" >5.00</text>
<line x1="432.10" x2="707.30" y1="530.04" y2="530.04" stroke="#E2E2E2" stroke-width="0.8"/>
<text transform="translate(423.80,529.44) scale(0.865,1)" font-size="8.0" text-anchor="end" fill="#505050" font-weight="normal" dy="0.31em" >10.00</text>
<line x1="432.10" x2="707.30" y1="508.06" y2="508.06" stroke="#E2E2E2" stroke-width="0.8"/>
<text transform="translate(423.80,507.46) scale(0.865,1)" font-size="8.0" text-anchor="end" fill="#505050" font-weight="normal" dy="0.31em" >15.00</text>
<line x1="432.10" x2="707.30" y1="486.08" y2="486.08" stroke="#E2E2E2" stroke-width="0.8"/>
<text transform="translate(423.80,485.48) scale(0.865,1)" font-size="8.0" text-anchor="end" fill="#505050" font-weight="normal" dy="0.31em" >20.00</text>
<line x1="432.10" x2="707.30" y1="464.10" y2="464.10" stroke="#E2E2E2" stroke-width="0.8"/>
<text transform="translate(423.80,463.50) scale(0.865,1)" font-size="8.0" text-anchor="end" fill="#505050" font-weight="normal" dy="0.31em" >25.00</text>
<text transform="translate(455.00,585.40) scale(0.865,1)" font-size="8.0" text-anchor="middle" fill="#505050" font-weight="normal" dy="0.31em" >2013</text>
<text transform="translate(500.90,585.40) scale(0.865,1)" font-size="8.0" text-anchor="middle" fill="#505050" font-weight="normal" dy="0.31em" >2014</text>
<text transform="translate(546.80,585.40) scale(0.865,1)" font-size="8.0" text-anchor="middle" fill="#505050" font-weight="normal" dy="0.31em" >2015</text>
<text transform="translate(592.70,585.40) scale(0.865,1)" font-size="8.0" text-anchor="middle" fill="#505050" font-weight="normal" dy="0.31em" >2016</text>
<text transform="translate(638.60,585.40) scale(0.865,1)" font-size="8.0" text-anchor="middle" fill="#505050" font-weight="normal" dy="0.31em" >2017</text>
<text transform="translate(707.00,585.40) scale(0.95,1)" font-size="8.0" text-anchor="end" fill="#505050" font-weight="normal" dy="0.31em" ><tspan>2018</tspan><tspan font-size="7.4">前三季度</tspan></text>
<polyline points="455.00,519.40 500.90,519.40 546.80,514.13 592.70,512.85 638.60,495.40 684.50,482.56" fill="none" stroke="#ED7D31" stroke-width="1.7" stroke-linejoin="round" stroke-linecap="round"/>
<circle cx="455.00" cy="519.40" r="2.5" fill="#ED7D31"/>
<circle cx="500.90" cy="519.40" r="2.5" fill="#ED7D31"/>
<circle cx="546.80" cy="514.13" r="2.5" fill="#ED7D31"/>
<circle cx="592.70" cy="512.85" r="2.5" fill="#ED7D31"/>
<circle cx="638.60" cy="495.40" r="2.5" fill="#ED7D31"/>
<circle cx="684.50" cy="482.56" r="2.5" fill="#ED7D31"/>
<text transform="translate(461.90,519.80) scale(0.865,1)" font-size="8.0" text-anchor="start" fill="#505050" font-weight="normal" dy="0.31em" >12.42</text>
<text transform="translate(507.80,519.80) scale(0.865,1)" font-size="8.0" text-anchor="start" fill="#505050" font-weight="normal" dy="0.31em" >12.42</text>
<text transform="translate(553.70,514.53) scale(0.865,1)" font-size="8.0" text-anchor="start" fill="#505050" font-weight="normal" dy="0.31em" >13.62</text>
<text transform="translate(599.60,513.25) scale(0.865,1)" font-size="8.0" text-anchor="start" fill="#505050" font-weight="normal" dy="0.31em" >13.91</text>
<text transform="translate(645.50,495.80) scale(0.865,1)" font-size="8.0" text-anchor="start" fill="#505050" font-weight="normal" dy="0.31em" >17.88</text>
<text transform="translate(691.40,482.96) scale(0.865,1)" font-size="8.0" text-anchor="start" fill="#505050" font-weight="normal" dy="0.31em" >20.80</text>
<line x1="536.70" x2="552.80" y1="609.80" y2="609.80" stroke="#ED7D31" stroke-width="1.7" stroke-linecap="round"/>
<circle cx="544.75" cy="609.80" r="2.4" fill="#ED7D31"/>
<text transform="translate(554.40,609.80) scale(0.95,1)" font-size="7.4" text-anchor="start" fill="#505050" font-weight="normal" dy="0.31em" >净利率：%</text>
</svg>

<div class="ln j" id="ln0" style="top:338.90px;left:209.5px;height:18.6px;line-height:18.6px;font-size:13.33px;letter-spacing:-0.086px;"><b>从三项费用和净利率来看，</b>公司 <span style="letter-spacing:-0.836px">2018</span> 前三季度净利率为 <span style="letter-spacing:-0.836px">20.8%</span>，相比过去几年持续快速提</div>
<div class="ln j" id="ln1" style="top:357.50px;left:209.5px;height:18.6px;line-height:18.6px;font-size:13.33px;letter-spacing:-0.007px;">升，主要源于：1）公司扩大规模、高毛利产品占比提升，毛利率持续提升；2）受益公司</div>
<div class="ln" id="ln2" style="top:376.10px;left:209.5px;height:18.6px;line-height:18.6px;font-size:13.33px;">经营性效率提升，三项费用率呈持续下降。</div>

<div class="abs" style="left:209.6px;top:695.3px;font-size:15.6px;line-height:22px;color:#F5821F;">1.4.</div>
<div class="abs" style="left:237.3px;top:695.3px;font-size:16px;line-height:22px;color:#F5821F;font-weight:900;letter-spacing:0.1px;">未来战略：上下游延伸提升一体化解决方案能力+外延扩张新领域</div>

<div class="ln j" id="ln3" style="top:727.70px;left:209.5px;height:18.6px;line-height:18.6px;font-size:13.33px;letter-spacing:0.170px;">公司 <span style="letter-spacing:-0.580px">2003</span> 年成立，一直专注于数据机房等精密环境控制技术的研发，已成为国内机房精</div>
<div class="ln j" id="ln4" style="top:746.30px;left:209.5px;height:18.6px;line-height:18.6px;font-size:13.33px;letter-spacing:0.031px;">密温控的龙头。公司未来战略，服务于数据信息行业，努力成为世界范围内具有领导地位</div>
<div class="ln j" id="ln5" style="top:764.90px;left:209.5px;height:18.6px;line-height:18.6px;font-size:13.33px;letter-spacing:0.031px;">的机房空调专业制造商和机房环境一体化解决方案服务商。<b>纵向上，公司上游切入冷水机</b></div>
<div class="ln j" id="ln6" style="top:783.50px;left:209.5px;height:18.6px;line-height:18.6px;font-size:13.33px;letter-spacing:0.202px;"><b>组市场（打开广阔成长空间），下游精细化代维和服务能力，打造一体化解决方案的核心</b></div>
<div class="ln j" id="ln7" style="top:802.10px;left:209.5px;height:18.6px;line-height:18.6px;font-size:13.33px;letter-spacing:0.196px;"><b>竞争力<i>；</i>横向上<i>，</i>一方面公司不断切入新的行业应用市场<i>，</i>然后再提升不同领域的市占率，</b></div>
<div class="ln" id="ln8" style="top:820.70px;left:209.5px;height:18.6px;line-height:18.6px;font-size:13.33px;"><b>另一方面，围绕大数据服务主线扩张新的领域。</b></div>
<div class="ln j" id="ln9" style="top:849.70px;left:209.5px;height:18.6px;line-height:18.6px;font-size:13.33px;letter-spacing:-0.007px;">公司在坚实主业的基础上，同时设立了产业并购基金，总规模为 2 亿人民币，其投资方向</div>
<div class="ln j" id="ln10" style="top:868.30px;left:209.5px;height:18.6px;line-height:18.6px;font-size:13.33px;letter-spacing:0.120px;">为新一代信息技术、<span style="letter-spacing:-0.630px">ICT</span> 行业、高端制造相关领域内的国内外优质标的，与公司主营业务</div>
<div class="ln j" id="ln11" style="top:886.90px;left:209.5px;height:18.6px;line-height:18.6px;font-size:13.33px;letter-spacing:0.031px;">相似，通过并购基金发现、培育优质标的，<u>为公司在安全信息化、大数据、通信、云计算</u></div>
<div class="ln j" id="ln12" style="top:905.50px;left:209.5px;height:18.6px;line-height:18.6px;font-size:13.33px;letter-spacing:0.031px;"><u>和自主可控等国家支持的先进产业的业务拓展储备项目</u>。公司战略部署上，内生和外延共</div>
<div class="ln" id="ln13" style="top:924.10px;left:209.5px;height:18.6px;line-height:18.6px;font-size:13.33px;">同驱动公司发展，未来值得期待。</div>

<div class="hl" style="left:62px;top:1083px;width:669px;height:2px;background:#E8880A;"></div>
<div class="abs" style="left:100.8px;top:1087.6px;font-size:12px;line-height:16px;color:#2b2b2b;">请务必阅读正文之后的信息披露和免责申明</div>
<div class="abs" style="left:718.3px;top:1087px;font-size:11.5px;line-height:16px;color:#444;">6</div>
<div class="abs" style="left:199px;top:1103px;font-size:13.85px;line-height:18px;color:#111;font-family:'Liberation Serif','Noto Serif CJK SC',serif;">获取更多行业研究报告请登录<span style="display:inline-block;font-family:'Liberation Mono',monospace;font-size:13.5px;transform:scaleX(0.854);transform-origin:0 50%;">http://www.3mbang.com/hybg.html</span></div>
</body>
</html>
